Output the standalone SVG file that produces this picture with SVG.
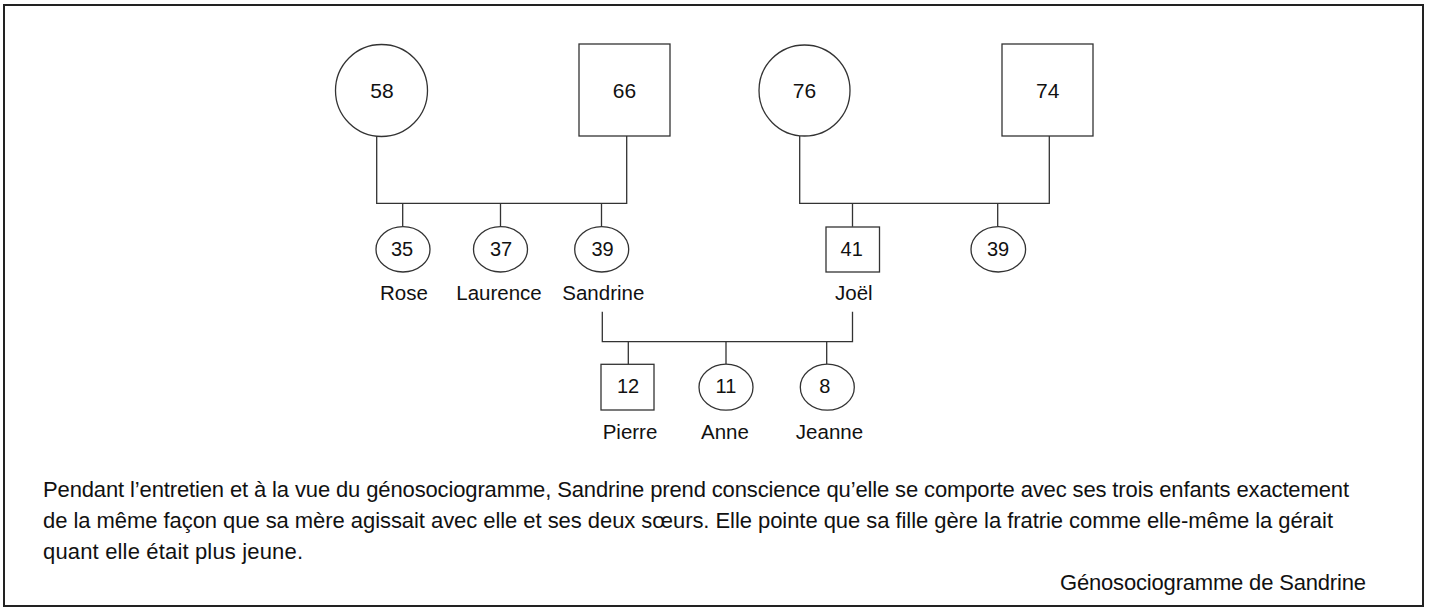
<svg xmlns="http://www.w3.org/2000/svg" width="1432" height="609" viewBox="0 0 1432 609">
<style>
.shape{fill:#fff;stroke:#333;stroke-width:1.3}
.conn{fill:none;stroke:#333;stroke-width:1.3}
.num{font-family:"Liberation Sans",Arial,sans-serif;font-size:21px;fill:#111;text-anchor:middle}
.small{font-size:20px}
.lbl{font-family:"Liberation Sans",Arial,sans-serif;font-size:20.5px;fill:#111;text-anchor:middle}
.para{font-family:"Liberation Sans",Arial,sans-serif;font-size:22px;fill:#111}
</style>
<rect x="4" y="5" width="1419" height="601" fill="#fff" stroke="#222" stroke-width="2"/>
<g id="connectors">
<path class="conn" d="M376.7 136 V203.3 H626.7 V136"/>
<path class="conn" d="M402.7 203.3 V226.7 M500.5 203.3 V226.7 M601.5 203.3 V226.7"/>
<path class="conn" d="M799.7 136 V203.3 H1049.3 V136"/>
<path class="conn" d="M852.5 203.3 V226.7 M997.7 203.3 V226.7"/>
<path class="conn" d="M602.3 311.7 V341.7 H852.5 V311.7"/>
<path class="conn" d="M628.3 341.7 V364.3 M726 341.7 V364.3 M826.7 341.7 V364.3"/>
</g>
<g id="n58"><circle class="shape" cx="381.5" cy="90.5" r="46"/><text class="num" x="382" y="98.3">58</text></g>
<g id="n66"><rect class="shape" x="579" y="44" width="91" height="92"/><text class="num" x="624.5" y="98.3">66</text></g>
<g id="n76"><circle class="shape" cx="804.5" cy="90.5" r="45.5"/><text class="num" x="804.5" y="98.3">76</text></g>
<g id="n74"><rect class="shape" x="1002" y="44" width="91" height="92"/><text class="num" x="1047.7" y="98.3">74</text></g>
<g id="rose"><ellipse class="shape" cx="403" cy="249.3" rx="27" ry="22.7"/><text class="num small" x="402" y="255.5">35</text><text class="lbl" x="404" y="300">Rose</text></g>
<g id="laurence"><ellipse class="shape" cx="500.5" cy="249.3" rx="27" ry="22.7"/><text class="num small" x="501" y="255.5">37</text><text class="lbl" x="499" y="300">Laurence</text></g>
<g id="sandrine"><ellipse class="shape" cx="601.7" cy="249.3" rx="27" ry="22.7"/><text class="num small" x="602.5" y="255.5">39</text><text class="lbl" x="603.3" y="300">Sandrine</text></g>
<g id="joel"><rect class="shape" x="826" y="227" width="53.5" height="45"/><text class="num small" x="851.7" y="255.5">41</text><text class="lbl" x="853.8" y="300">Joël</text></g>
<g id="sister39"><ellipse class="shape" cx="998.3" cy="249.3" rx="27.3" ry="22.7"/><text class="num small" x="998" y="255.5">39</text></g>
<g id="pierre"><rect class="shape" x="601" y="364.3" width="53" height="45.7"/><text class="num small" x="628" y="392.7">12</text><text class="lbl" x="630" y="439.3">Pierre</text></g>
<g id="anne"><ellipse class="shape" cx="726" cy="387.2" rx="27" ry="23"/><text class="num small" x="726" y="392.7">11</text><text class="lbl" x="725" y="439.3">Anne</text></g>
<g id="jeanne"><ellipse class="shape" cx="827.3" cy="387.2" rx="27" ry="23"/><text class="num small" x="824.7" y="392.7">8</text><text class="lbl" x="829.5" y="439.3">Jeanne</text></g>
<g id="text">
<text class="para" x="43" y="497" textLength="1306" lengthAdjust="spacing">Pendant l’entretien et à la vue du génosociogramme, Sandrine prend conscience qu’elle se comporte avec ses trois enfants exactement</text>
<text class="para" x="43" y="528" textLength="1290" lengthAdjust="spacing">de la même façon que sa mère agissait avec elle et ses deux sœurs. Elle pointe que sa fille gère la fratrie comme elle-même la gérait</text>
<text class="para" x="43" y="559" textLength="260" lengthAdjust="spacing">quant elle était plus jeune.</text>
<text class="para" x="1060" y="590" textLength="306" lengthAdjust="spacing">Génosociogramme de Sandrine</text>
</g>
</svg>
